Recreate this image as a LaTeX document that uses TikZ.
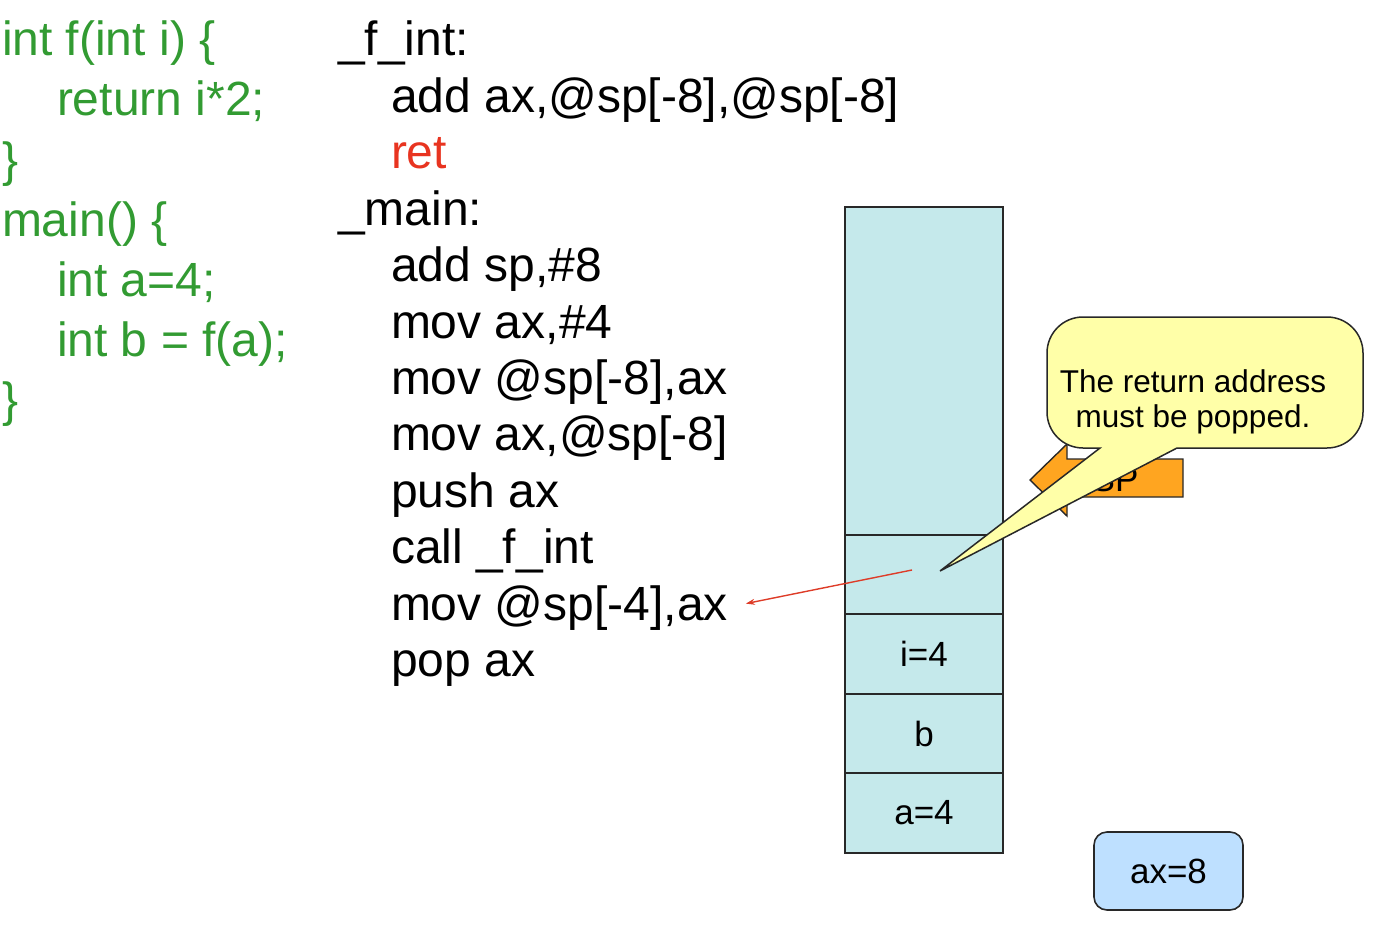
\documentclass[tikz,border=0pt]{standalone}
\usepackage{fontspec}
\setmainfont{Liberation Sans}
\usetikzlibrary{arrows.meta,calc}
\definecolor{codegreen}{RGB}{50,155,50}
\definecolor{retred}{RGB}{232,52,32}
\definecolor{stackfill}{RGB}{197,233,235}
\definecolor{calloutfill}{RGB}{255,255,168}
\definecolor{spfill}{RGB}{255,165,32}
\definecolor{axfill}{RGB}{190,224,255}
\definecolor{edgegray}{RGB}{40,40,40}
\definecolor{arrowred}{RGB}{222,60,40}
\begin{document}
\begin{tikzpicture}[x=1pt,y=-1pt,
  codeline/.style={anchor=base west, inner sep=0pt, outer sep=0pt, font=\fontsize{48}{56}\selectfont},
  ccode/.style={codeline, text=codegreen},
  cell/.style={draw=edgegray, line width=1.6pt, fill=stackfill, minimum width=158pt,
               inner sep=0pt, outer sep=0pt, font=\fontsize{35}{40}\selectfont},
  redarrow/.style={draw=arrowred, line width=1.4pt, -{Stealth[length=9pt,width=6pt]}},
  sparrow/.style={draw=edgegray, line width=1.4pt, fill=spfill},
  calloutshape/.style={draw=edgegray, line width=1.5pt, fill=calloutfill},
  axbox/.style={draw=edgegray, line width=1.6pt, fill=axfill, rounded corners=13pt,
                minimum width=149pt, minimum height=78pt, inner sep=0pt,
                font=\fontsize{35}{40}\selectfont}
]
\useasboundingbox (0,0) rectangle (1394,931);

% C source
\node[ccode] (c1) at (2,56)   {int f(int i) \{};
\node[ccode] (c2) at (57,116) {return i*2;};
\node[ccode] (c3) at (2,176)  {\}};
\node[ccode] (c4) at (2,236)  {main() \{};
\node[ccode] (c5) at (57,296) {int a=4;};
\node[ccode] (c6) at (57,356) {int b = f(a);};
\node[ccode] (c7) at (2,416)  {\}};

% assembly
\node[codeline] (a0)  at (338,56)    {\_f\_int:};
\node[codeline] (a1)  at (391,112.4) {add ax,@sp[-8],@sp[-8]};
\node[codeline, text=retred] (a2) at (391,168.8) {ret};
\node[codeline] (a3)  at (338,225.2) {\_main:};
\node[codeline] (a4)  at (391,281.6) {add sp,\#8};
\node[codeline] (a5)  at (391,338.0) {mov ax,\#4};
\node[codeline] (a6)  at (391,394.4) {mov @sp[-8],ax};
\node[codeline] (a7)  at (391,450.8) {mov ax,@sp[-8]};
\node[codeline] (a8)  at (391,507.2) {push ax};
\node[codeline] (a9)  at (391,563.6) {call \_f\_int};
\node[codeline] (a10) at (391,620.0) {mov @sp[-4],ax};
\node[codeline] (a11) at (391,676.4) {pop ax};

% stack
\node[cell, minimum height=328pt] (free) at (924,371)   {};
\node[cell, minimum height=79pt]  (retc) at (924,574.5) {};
\node[cell, minimum height=80pt]  (ic)   at (924,654)   {i=4};
\node[cell, minimum height=79pt]  (bc)   at (924,733.5) {b};
\node[cell, minimum height=80pt]  (ac)   at (924,813)   {a=4};

% return address arrow
\coordinate (retpt) at (912,570);
\draw[redarrow] (retpt) -- ([xshift=18pt,yshift=4pt]a10.east);

% SP block arrow
\draw[sparrow] (1183,459) -- (1067,459) -- (1067,444) -- (1030,480)
  -- (1067,516) -- (1067,497) -- (1183,497) -- cycle;
\node[font=\fontsize{35}{40}\selectfont, inner sep=0pt] (sp) at (1115,479) {SP};

% callout
\coordinate (tip) at (940,571);
\draw[calloutshape] (tip) -- (1177,448) -- (1327,448)
  .. controls (1346.9,448) and (1363,431.9) .. (1363,412) -- (1363,353)
  .. controls (1363,333.1) and (1346.9,317) .. (1327,317) -- (1083,317)
  .. controls (1063.1,317) and (1047,333.1) .. (1047,353) -- (1047,412)
  .. controls (1047,431.9) and (1063.1,448) .. (1083,448) -- (1100,448) -- cycle;
\node[align=center, inner sep=0pt, font=\fontsize{31.5}{35}\selectfont] (note) at (1193,402)
  {The return address\\must be popped.};

% ax register
\node[axbox] (ax) at (1168.5,871) {ax=8};
\end{tikzpicture}
\end{document}
